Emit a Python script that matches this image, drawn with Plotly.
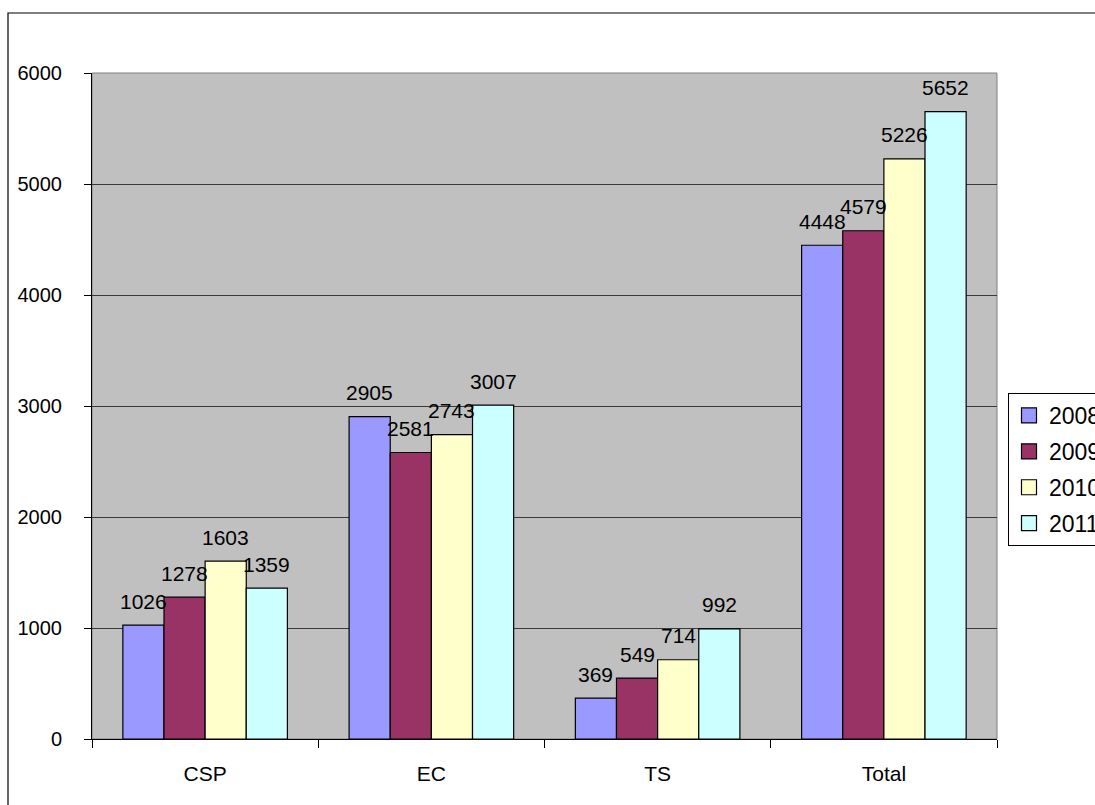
import plotly.graph_objects as go

categories = ["CSP", "EC", "TS", "Total"]
years = ["2008", "2009", "2010", "2011"]
values_2008 = [1026, 2905, 369, 4448]
values_2009 = [1278, 2581, 549, 4579]
values_2010 = [1603, 2743, 714, 5226]
values_2011 = [1359, 3007, 992, 5652]
series = [values_2008, values_2009, values_2010, values_2011]
colors = ["#9999FF", "#993366", "#FFFFCC", "#CCFFFF"]
y_ticks = [0, 1000, 2000, 3000, 4000, 5000, 6000]

W, H = 1095, 805
ML, MR, MT, MB = 92, 98, 73, 66
BARGAP = 1.5 / 5.5
FONT = "Arial, Liberation Sans, sans-serif"

plot_w = W - ML - MR
plot_h = H - MT - MB
bar_px = plot_w / len(categories) * (1 - BARGAP) / len(years)

fig = go.Figure()
for i, (yr, vals, col) in enumerate(zip(years, series, colors)):
    fig.add_trace(go.Bar(
        x=categories, y=vals, name=yr,
        marker=dict(color=col, line=dict(color="black", width=1.2)),
        showlegend=False,
    ))
    fig.add_trace(go.Scatter(
        x=[None], y=[None], mode="markers", name=yr, legendgroup=yr,
        marker=dict(symbol="square", size=15, color=col,
                    line=dict(color="black", width=1.2)),
        showlegend=True,
    ))
    for cat, v in zip(categories, vals):
        fig.add_annotation(
            x=cat, y=v, text=str(v), showarrow=False,
            xshift=(i - (len(years) - 1) / 2) * bar_px,
            yshift=24, yanchor="middle",
            font=dict(family=FONT, size=21, color="black"),
        )

fig.add_shape(type="rect", xref="paper", yref="paper", x0=0, x1=1, y0=0, y1=1,
              line=dict(color="#808080", width=1), layer="below")
fig.add_shape(type="rect", xref="paper", yref="paper",
              x0=(8 - ML) / plot_w, x1=1.2, y0=-0.2, y1=(H - MB - 13) / plot_h,
              line=dict(color="black", width=1.2), layer="above")

fig.update_layout(
    width=W, height=H,
    margin=dict(l=ML, r=MR, t=MT, b=MB, autoexpand=False),
    paper_bgcolor="white",
    plot_bgcolor="#C0C0C0",
    barmode="group", bargap=BARGAP, bargroupgap=0,
    font=dict(family=FONT, size=20, color="black"),
    showlegend=True,
    legend=dict(
        x=(1008 - ML) / plot_w, xanchor="left",
        y=(H - MB - 393) / plot_h, yanchor="top",
        bgcolor="white", bordercolor="black", borderwidth=1,
        font=dict(family=FONT, size=23, color="black"),
        tracegroupgap=3, itemsizing="trace", itemwidth=30,
    ),
    xaxis=dict(
        showline=True, linecolor="black", linewidth=1,
        ticks="outside", tickson="boundaries", ticklen=8, tickcolor="black",
        ticklabelstandoff=16, showgrid=False,
        tickfont=dict(family=FONT, size=21),
    ),
    yaxis=dict(
        range=[0, 6000], tickvals=y_ticks, ticktext=[str(t) for t in y_ticks],
        showline=True, linecolor="black", linewidth=1,
        ticks="outside", ticklen=7, tickcolor="black",
        ticklabelstandoff=18,
        showgrid=True, gridcolor="#3a3a3a", gridwidth=1,
        zeroline=False,
        tickfont=dict(family=FONT, size=20),
    ),
)

fig.write_html("out.html", config={"displayModeBar": False})

# remove the default 8px body margin so the figure sits at the page origin
with open("out.html", encoding="utf-8") as f:
    html = f.read()
html = html.replace("<body>", '<body style="margin:0;padding:0;overflow:hidden">', 1)
with open("out.html", "w", encoding="utf-8") as f:
    f.write(html)
